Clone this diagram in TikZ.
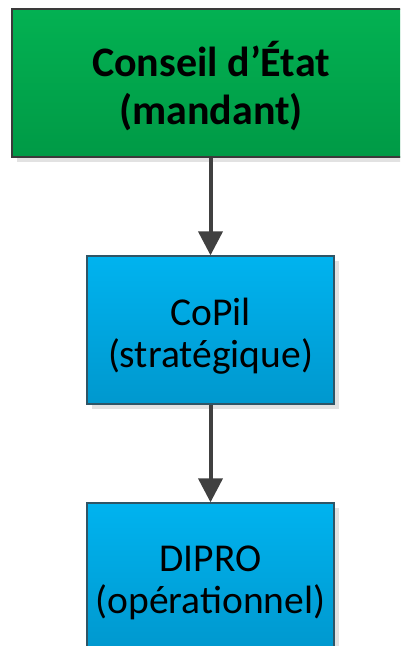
\documentclass[tikz,border=0pt]{standalone}
\usepackage{fontspec}
\setmainfont{Carlito}
\usetikzlibrary{arrows.meta,shadows}
\definecolor{greentop}{HTML}{03B152}
\definecolor{greenbot}{HTML}{009A46}
\definecolor{bluetop}{HTML}{00B3EF}
\definecolor{bluebot}{HTML}{0098CE}
\definecolor{edgegray}{HTML}{3A3A3A}
\definecolor{edgeblue}{HTML}{2F5566}
\definecolor{shadowgray}{HTML}{E2E2E2}
\definecolor{arrowgray}{HTML}{404040}
\tikzset{
  boxshadow/.style={drop shadow={shadow xshift=5pt, shadow yshift=-5pt, fill=shadowgray, opacity=1}},
  greenbox/.style={boxshadow, draw=edgegray, line width=1.3pt, top color=greentop, bottom color=greenbot,
    minimum width=398pt, minimum height=148pt, inner sep=0pt},
  bluebox/.style={boxshadow, draw=edgeblue, line width=1.3pt, top color=bluetop, bottom color=bluebot,
    minimum width=247pt, minimum height=148pt, inner sep=0pt},
  boldlabel/.style={align=center, inner sep=0pt, font=\fontsize{42}{48}\selectfont\bfseries},
  plainlabel/.style={align=center, inner sep=0pt, font=\fontsize{39.5}{42}\selectfont},
  flowarrow/.style={draw=arrowgray, line width=4pt, -{Triangle[width=24pt,length=24pt]}}
}
\begin{document}
\begin{tikzpicture}[x=1pt,y=1pt]
  \clip (0,0) rectangle (400,-646);
  \useasboundingbox (0,0) rectangle (400,-646);
  \node[greenbox] (conseil) at (211,-83) {};
  \node[bluebox] (copil) at (210.5,-330) {};
  \node[bluebox] (dipro) at (210.5,-577) {};
  \node[boldlabel] (conseiltext) at ([yshift=-3pt]conseil.center) {Conseil d’État\\(mandant)};
  \node[plainlabel] (copiltext) at ([yshift=-6pt]copil.center) {CoPil\\(stratégique)};
  \node[plainlabel] (diprotext) at ([yshift=-6pt]dipro.center) {DIPRO\\(opérationnel)};
  \draw[flowarrow] (conseil.south -| copil.north) -- (copil.north);
  \draw[flowarrow] (copil.south) -- (dipro.north);
\end{tikzpicture}
\end{document}
